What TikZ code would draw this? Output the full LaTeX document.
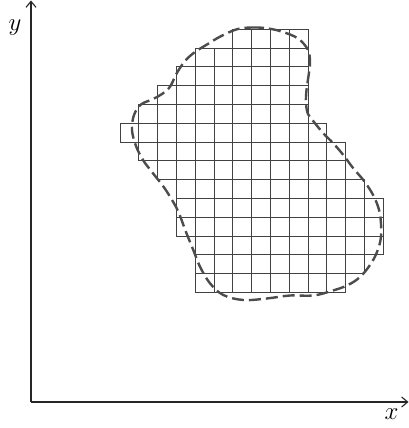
\documentclass[tikz,border=0pt]{standalone}
\usetikzlibrary{arrows.meta}
\begin{document}
\begin{tikzpicture}[x=1pt,y=-1pt,
  cell/.style={draw=black!74,line width=0.95pt},
  outline/.style={draw=black!70,line width=2.4pt,dash pattern=on 12pt off 5pt},
  axis/.style={draw=black!85,line width=1.1pt,-{Straight Barb[length=6pt,width=10pt]}},
  lbl/.style={font=\fontsize{28}{32}\selectfont}]
\useasboundingbox (0,0) rectangle (409,428);
% grid cells: row / first column / last column
\foreach \r/\a/\b in {0/6/9,1/4/9,2/3/9,3/2/9,4/1/9,5/0/10,6/1/11,7/2/11,8/3/12,9/3/13,10/3/13,11/4/13,12/4/12,13/4/11}{
  \foreach \c in {\a,...,\b}{
    \draw[cell] ({120+\c*18.8},{29.3+\r*18.8}) rectangle ++(18.8,18.8);
  }
}
% dashed region boundary
\draw[outline] plot[smooth cycle,tension=0.6] coordinates {
(236.7,29.3) (252,27.5) (267,28.3) (282,31.7) (298,38.5) (308,50) (310,63) (308.5,76) (306.5,90) (306,103) (308,114) (314,122) (323.3,133.3) (333.3,143.3) (343.3,155) (353.3,168.3) (363.3,180) (371.7,192.5) (377.5,205) (380.5,218) (381,236.7) (377,252) (370,265) (360,277) (348,285) (333,290.5) (313.3,295.5) (290,295.5) (266.7,298.5) (243.3,300) (223.3,295) (210,283.3) (200,266.7) (193.3,250) (186,232) (178,211) (170,196.7) (163,186) (152,172) (143,160) (136,146) (132,130) (134,115) (141,104.5) (152,99.5) (162,94) (170,86.7) (176.7,73.3) (185,61) (195,52) (207,44.5) (220,36.7)};
% axes
\coordinate (O) at (31,402);
\coordinate (ytop) at (31,0.5);
\coordinate (xend) at (408.5,402);
\draw[axis] (O) -- (ytop);
\draw[axis] (O) -- (xend);
\node[lbl] (ylab) at (15,28) {$y$};
\node[lbl] (xlab) at (391.5,414) {$x$};
\end{tikzpicture}
\end{document}
